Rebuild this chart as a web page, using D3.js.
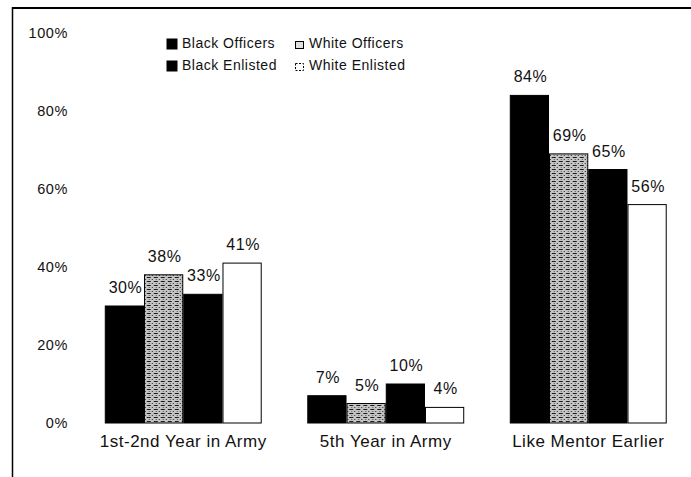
<!DOCTYPE html>
<html lang="en">
  <head>
    <meta charset="UTF-8" />
    <title>Mentoring by Year in Army</title>
    <script src="https://d3js.org/d3.v7.min.js"></script>
    <style>
      body {
        margin: 0;
        background: #fff;
        font-family: "Liberation Sans", Arial, sans-serif;
      }
      text {
        fill: #111;
      }
    </style>
  </head>
  <body>
    <script>
      // Data
      const categories = ["1st-2nd Year in Army", "5th Year in Army", "Like Mentor Earlier"];
      const series = ["Black Officers", "White Officers", "Black Enlisted", "White Enlisted"];
      const blackOfficers = [30, 7, 84];
      const whiteOfficers = [38, 5, 69];
      const blackEnlisted = [33, 10, 65];
      const whiteEnlisted = [41, 4, 56];
      const yTicks = [0, 20, 40, 60, 80, 100];

      const values = [blackOfficers, whiteOfficers, blackEnlisted, whiteEnlisted];

      const width = 691;
      const height = 477;

      const svg = d3
        .select("body")
        .append("svg")
        .attr("width", width)
        .attr("height", height);

      // halftone-ish texture for the white officers bars
      const defs = svg.append("defs");
      const pat = defs
        .append("pattern")
        .attr("id", "speckle")
        .attr("patternUnits", "userSpaceOnUse")
        .attr("width", 7)
        .attr("height", 4);
      pat.append("rect").attr("width", 7).attr("height", 4).attr("fill", "#c4c4c4");
      pat.append("rect").attr("x", 0).attr("y", 1).attr("width", 4).attr("height", 1).attr("fill", "#1a1a1a");
      pat.append("rect").attr("x", 5).attr("y", 3).attr("width", 1).attr("height", 1).attr("fill", "#222");
      pat.append("rect").attr("x", 2).attr("y", 3).attr("width", 1).attr("height", 1).attr("fill", "#555");

      const fills = ["#000", "url(#speckle)", "#000", "#fff"];

      // frame (top and left edges only are visible)
      svg.append("line")
        .attr("x1", 12).attr("x2", width).attr("y1", 8).attr("y2", 8)
        .attr("stroke", "#000").attr("stroke-width", 2);
      svg.append("line")
        .attr("x1", 12.5).attr("x2", 12.5).attr("y1", 7).attr("y2", height)
        .attr("stroke", "#000").attr("stroke-width", 1.5);

      const x0 = d3
        .scaleBand()
        .domain(categories)
        .range([82, 689.5])
        .paddingInner(0.225)
        .paddingOuter(0.1125);

      const x1 = d3.scaleBand().domain(series).range([0, x0.bandwidth()]);

      const y = d3.scaleLinear().domain([0, 100]).range([423, 33]);

      // y tick labels, no axis line
      svg
        .append("g")
        .selectAll("text")
        .data(yTicks)
        .join("text")
        .attr("x", 68)
        .attr("y", (d) => y(d) + 5)
        .attr("text-anchor", "end")
        .style("font-size", "14.5px")
        .style("letter-spacing", "0.6px")
        .text((d) => d + "%");

      const groups = svg
        .append("g")
        .selectAll("g")
        .data(categories)
        .join("g")
        .attr("transform", (d) => `translate(${x0(d)},0)`);

      const bars = groups
        .selectAll("g")
        .data((c, i) => series.map((s, j) => ({ s, j, v: values[j][i] })))
        .join("g");

      bars
        .append("rect")
        .attr("x", (d) => x1(d.s) + 0.5)
        .attr("y", (d) => y(d.v))
        .attr("width", x1.bandwidth() - 1)
        .attr("height", (d) => y(0) - y(d.v))
        .attr("fill", (d) => fills[d.j])
        .attr("stroke", "#000")
        .attr("stroke-width", 1);

      bars
        .append("text")
        .attr("x", (d) => x1(d.s) + x1.bandwidth() / 2 + 1)
        .attr("y", (d) => y(d.v) - 13)
        .attr("text-anchor", "middle")
        .style("font-size", "16px")
        .style("letter-spacing", "0.5px")
        .text((d) => d.v + "%");

      // category labels
      svg
        .append("g")
        .selectAll("text")
        .data(categories)
        .join("text")
        .attr("x", (d) => x0(d) + x0.bandwidth() / 2)
        .attr("y", 447)
        .attr("text-anchor", "middle")
        .style("font-size", "17px")
        .style("letter-spacing", "0.5px")
        .text((d) => d);

      // legend, two rows of two
      const legendPos = [
        [167, 48],
        [295, 48],
        [167, 70],
        [295, 70],
      ];
      const legend = svg
        .append("g")
        .selectAll("g")
        .data(series)
        .join("g")
        .attr("transform", (d, i) => `translate(${legendPos[i][0]},${legendPos[i][1]})`);

      legend
        .append("rect")
        .attr("x", (d, i) => (i % 2 ? 0.5 : 0))
        .attr("y", (d, i) => (i % 2 ? -6.5 : -9))
        .attr("width", (d, i) => (i % 2 ? 8 : 10))
        .attr("height", (d, i) => (i % 2 ? 7 : 10))
        .attr("fill", (d, i) => (i === 1 ? "#e0e0e0" : fills[i]))
        .attr("stroke", "#000")
        .attr("stroke-width", 1)
        .attr("stroke-dasharray", (d, i) => (i === 3 ? "2,1.5" : null));

      legend
        .append("text")
        .attr("x", (d, i) => (i % 2 ? 14 : 15))
        .attr("y", 0)
        .style("font-size", "14px")
        .style("letter-spacing", "0.5px")
        .text((d) => d);
    </script>
  </body>
</html>
